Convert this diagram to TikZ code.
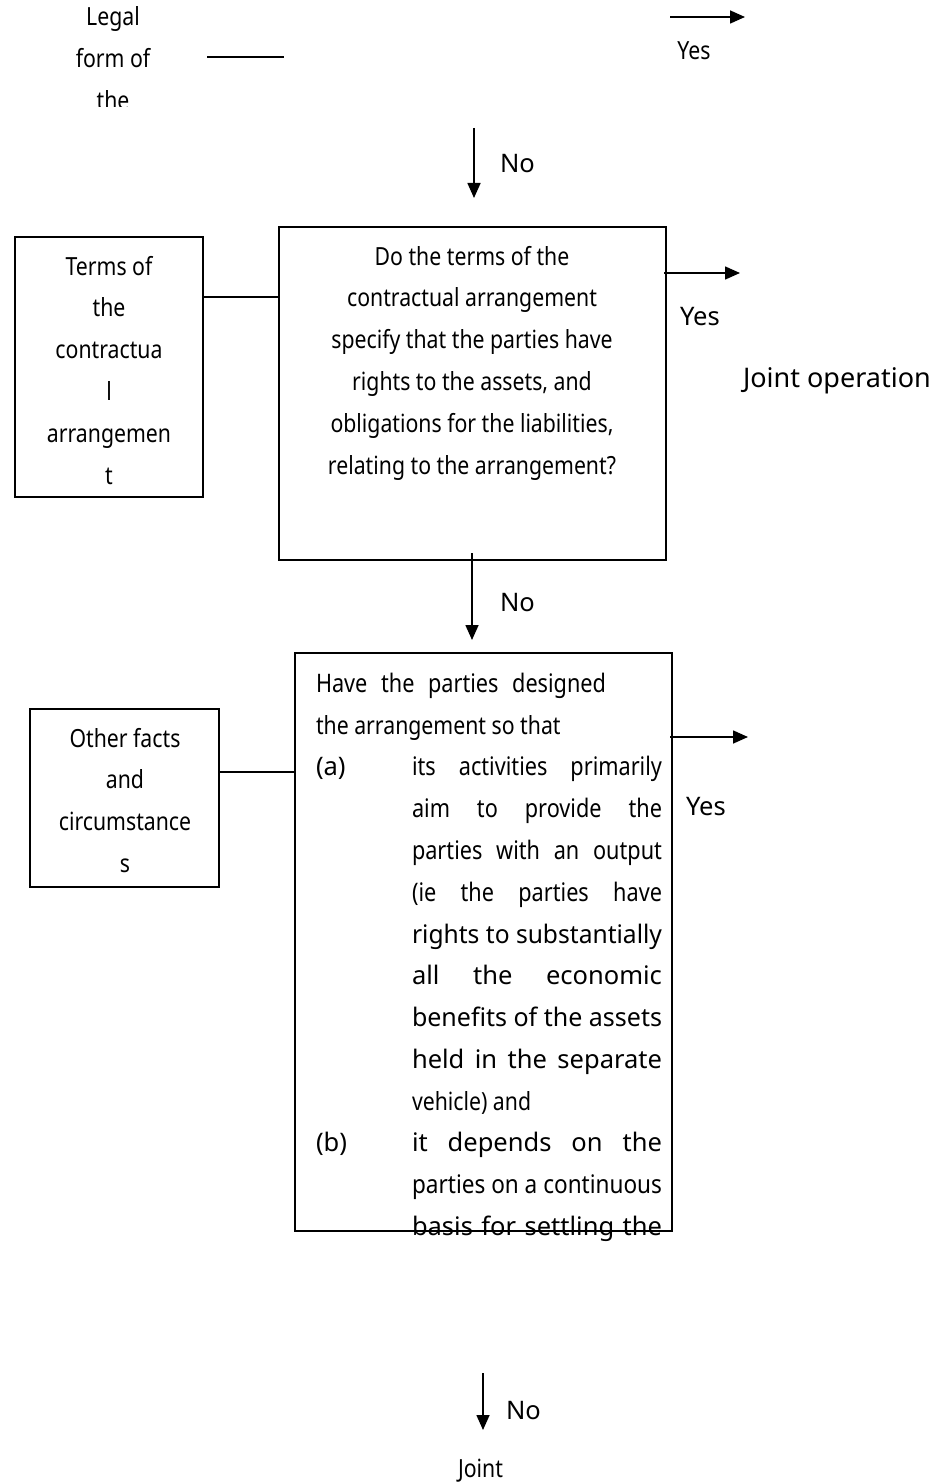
\documentclass[tikz,border=0pt]{standalone}
\usepackage{fontspec}
\usepackage{graphicx}
\setmainfont{Noto Sans}
\newfontfamily\condf[FakeStretch=0.85]{Noto Sans}
\usetikzlibrary{arrows.meta,calc}
\newsavebox\jbox
\newcommand\jline[2]{\sbox\jbox{#2}\ifdim\wd\jbox>#1\relax\resizebox{#1}{\height}{\usebox\jbox}\else\makebox[#1][s]{#2}\fi}
\begin{document}
\begin{tikzpicture}[x=1pt,y=-1pt,
  box/.style={draw, line width=1.8pt, inner sep=0pt, outer sep=0pt},
  txt/.style={inner sep=0pt, outer sep=0pt, font=\fontsize{25.5}{42}\selectfont},
  ctxt/.style={inner sep=0pt, outer sep=0pt, font=\fontsize{25}{42}\selectfont\condf},
  conn/.style={line width=1.6pt},
  arr/.style={conn, -{Triangle[length=15pt,width=13pt]}}]
\useasboundingbox (0,0) rectangle (934,1482);
% top, clipped legal form box text
\begin{scope}
\clip (0,0) rectangle (300,107);
\foreach \t [count=\i from 0] in {Legal, form of, the}
  \node[ctxt, anchor=base] (lf\i) at (113,{26+41.8*\i}) {\t};
\end{scope}
\coordinate (l1) at (207,57);
\coordinate (l2) at (284,57);
\draw[conn] (l1) -- (l2);
\coordinate (y0a) at (670,17);
\coordinate (y0b) at (745,17);
\draw[arr] (y0a) -- (y0b);
\node[ctxt, anchor=base] (yes0) at (694,60) {Yes};
\coordinate (n0a) at (474,128);
\coordinate (n0b) at (474,198);
\draw[arr] (n0a) -- (n0b);
\node[txt, anchor=base west] (no0) at (500,173) {No};
% box 1
\node[box, minimum width=188pt, minimum height=260pt] (b1) at (109,367) {};
\foreach \t [count=\i from 0] in {Terms of, the, contractua, l, arrangemen, t}
  \node[ctxt, anchor=base] (b1t\i) at (109,{275+41.8*\i}) {\t};
% box 2
\node[box, minimum width=387pt, minimum height=333pt] (b2) at (472.5,393.5) {};
\foreach \t [count=\i from 0] in {Do the terms of the, contractual arrangement, specify that the parties have, {rights to the assets, and}, {obligations for the liabilities,}, relating to the arrangement?}
  \node[ctxt, anchor=base] (b2t\i) at (472,{265+41.8*\i}) {\t};
\draw[conn] ($(b1.north east)+(0,60)$) -- ($(b2.north west)+(0,70)$);
\coordinate (y1b) at (740,273);
\draw[arr] ($(b2.north east)+(-2,46)$) -- (y1b);
\node[txt, anchor=base west] (yes1) at (680,325) {Yes};
\node[txt, anchor=base west, font=\fontsize{27}{42}\selectfont] (jo) at (743,387) {Joint operation};
% box 3
\node[box, minimum width=377pt, minimum height=578pt] (b3) at (483.5,942) {};
\draw[arr] ($(b2.south)+(-0.5,-7)$) -- ($(b2.south)+(-0.5,80)$);
\node[txt, anchor=base west] (no1) at (500,611) {No};
\node[txt, anchor=base west] (c0) at (316,692) {\jline{290pt}{\condf Have the parties designed}};
\node[ctxt, anchor=base west] (c1) at (316,734) {the arrangement so that};
\node[txt, anchor=base west] (ca) at (316,775) {(a)};
\node[txt, anchor=base west] (c2) at (412,775) {\jline{250pt}{\condf its activities primarily}};
\node[txt, anchor=base west] (c3) at (412,817) {\jline{250pt}{\condf aim to provide the}};
\node[txt, anchor=base west] (c4) at (412,859) {\jline{250pt}{\condf parties with an output}};
\node[txt, anchor=base west] (c5) at (412,901) {\jline{250pt}{\condf (ie the parties have}};
\node[txt, anchor=base west] (c6) at (412,943) {\jline{250pt}{rights to substantially}};
\node[txt, anchor=base west] (c7) at (412,984) {\jline{250pt}{all the economic}};
\node[txt, anchor=base west] (c8) at (412,1026) {\jline{250pt}{benefits of the assets}};
\node[txt, anchor=base west] (c9) at (412,1068) {\jline{250pt}{held in the separate}};
\node[ctxt, anchor=base west] (c10) at (412,1110) {vehicle) and};
\node[txt, anchor=base west] (cb) at (316,1151) {(b)};
\node[txt, anchor=base west] (c11) at (412,1151) {\jline{250pt}{it depends on the}};
\node[txt, anchor=base west] (c12) at (412,1193) {\jline{250pt}{parties on a continuous}};
\node[txt, anchor=base west] (c13) at (412,1235) {\jline{250pt}{basis for settling the}};
% box 4
\node[box, minimum width=189pt, minimum height=178pt] (b4) at (124.5,798) {};
\foreach \t [count=\i from 0] in {Other facts, and, circumstance, s}
  \node[ctxt, anchor=base] (b4t\i) at (125,{747+41.8*\i}) {\t};
\draw[conn] ($(b4.north east)+(0,63)$) -- ($(b3.north west)+(0,119)$);
\coordinate (y2b) at (748,737);
\draw[arr] ($(b3.north east)+(-2,84)$) -- (y2b);
\node[txt, anchor=base west] (yes2) at (686,815) {Yes};
% bottom
\coordinate (n2a) at (483,1373);
\coordinate (n2b) at (483,1430);
\draw[arr] (n2a) -- (n2b);
\node[txt, anchor=base west] (no2) at (506,1419) {No};
\node[ctxt, anchor=base west] (jv) at (458,1477) {Joint};
\end{tikzpicture}
\end{document}
